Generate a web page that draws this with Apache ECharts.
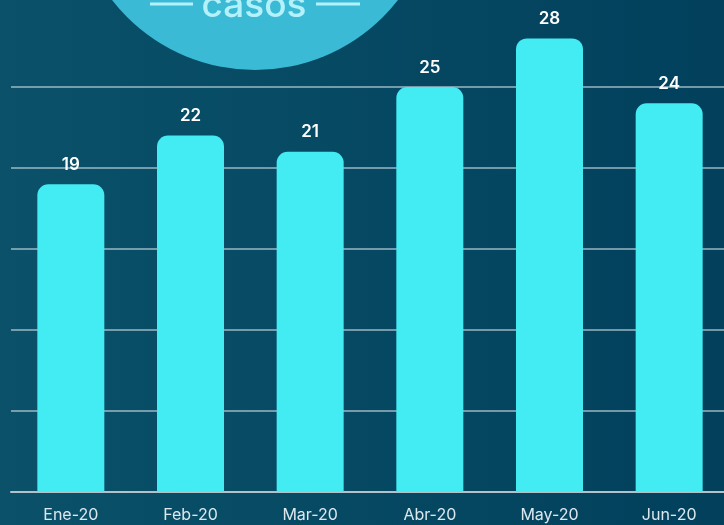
<!DOCTYPE html>
<html>
<head>
<meta charset="utf-8">
<script src="https://cdn.jsdelivr.net/npm/echarts@6/dist/echarts.min.js"></script>
<style>
  html, body { margin: 0; padding: 0; overflow: hidden; }
  #main { width: 730px; height: 525px; }
</style>
</head>
<body>
<div id="main"></div>
<script>
const months = ['Ene-20', 'Feb-20', 'Mar-20', 'Abr-20', 'May-20', 'Jun-20'];
const casos = [19, 22, 21, 25, 28, 24];
const title = 'casos';

const gridColor = 'rgba(190,210,220,0.6)';

let chart = echarts.init(document.getElementById('main'));
chart.setOption({
  backgroundColor: {
    type: 'linear', x: 0, y: 0, x2: 1, y2: 0,
    colorStops: [
      {offset: 0, color: '#0a5169'},
      {offset: 1, color: '#02405c'}
    ]
  },
  textStyle: {fontFamily: 'Inter'},
  grid: {left: 11, top: 6, right: 1, bottom: 33},
  xAxis: {
    type: 'category',
    data: months,
    axisLine: {lineStyle: {color: '#b3c2ca', width: 2}},
    axisTick: {length: 6, lineStyle: {color: '#b3c2ca', width: 2}},
    axisLabel: {color: '#dce8ee', fontSize: 16, margin: 15}
  },
  yAxis: {
    type: 'value',
    min: 0, max: 30, interval: 5,
    axisLabel: {show: false},
    axisLine: {show: false},
    axisTick: {show: false},
    splitLine: {
      lineStyle: {
        width: 2,
        color: ['transparent', gridColor, gridColor, gridColor, gridColor, gridColor, 'transparent']
      }
    }
  },
  series: [{
    type: 'bar',
    data: casos,
    barWidth: 67,
    itemStyle: {color: '#42ecf2', borderRadius: [11, 11, 0, 0]},
    label: {
      show: true,
      position: 'top',
      distance: 11,
      color: '#ffffff',
      fontSize: 17,
      fontWeight: 600
    }
  }],
  graphic: [
    {type: 'circle', shape: {cx: 255, cy: -111, r: 181}, style: {fill: '#3bbad6'}, z: 10},
    {type: 'line', shape: {x1: 150, y1: 4, x2: 193, y2: 4}, style: {stroke: '#b4f2fb', lineWidth: 3}, z: 11},
    {type: 'line', shape: {x1: 316, y1: 4, x2: 360, y2: 4}, style: {stroke: '#b4f2fb', lineWidth: 3}, z: 11},
    {
      type: 'text', x: 254, y: 24, z: 11,
      style: {
        text: title, fill: '#b4f2fb', fontSize: 37, fontWeight: 500,
        fontFamily: 'Inter', align: 'center', verticalAlign: 'bottom'
      }
    }
  ]
});
</script>
</body>
</html>
